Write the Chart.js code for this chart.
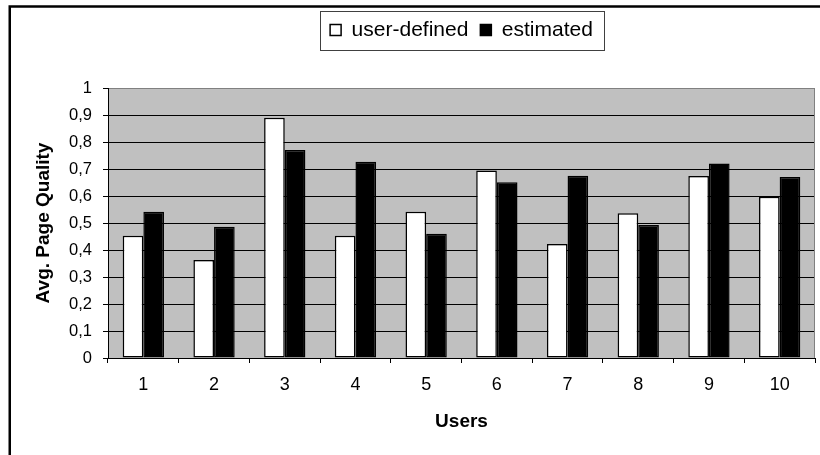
<!DOCTYPE html>
<html>
<head>
<meta charset="utf-8">
<title>Avg. Page Quality per user</title>
<style>
  html, body { margin: 0; padding: 0; background: #ffffff; }
  #wrap { width: 820px; height: 455px; position: relative; }
</style>
<script src="https://cdn.jsdelivr.net/npm/chart.js@4.4.1/dist/chart.umd.min.js"></script>
</head>
<body>
<div id="wrap"><canvas id="chart" width="820" height="455"></canvas></div>
<script>
// Users on the x axis
const users = ['1', '2', '3', '4', '5', '6', '7', '8', '9', '10'];
// Average page quality as defined by each user
const userDefined = [0.453, 0.363, 0.890, 0.453, 0.542, 0.694, 0.422, 0.536, 0.674, 0.597];
// Average page quality as estimated
const estimated = [0.542, 0.486, 0.770, 0.727, 0.460, 0.651, 0.675, 0.493, 0.720, 0.670];
// Y axis tick labels (decimal comma)
const qualityTicks = ['0', '0,1', '0,2', '0,3', '0,4', '0,5', '0,6', '0,7', '0,8', '0,9', '1'];

const FONT = "'Liberation Sans', Arial, Helvetica, sans-serif";

// Grey plot area, its grey frame, the boxed legend and the outer chart border
const chartFrame = {
  id: 'chartFrame',
  afterLayout(chart) {
    // keep the legend up at the top edge, leaving white space above the plot
    const lg = chart.legend;
    if (lg) {
      const shift = lg.top - 7.5;
      lg.top -= shift;
      lg.bottom -= shift;
    }
  },
  beforeDraw(chart) {
    const { ctx, chartArea: a } = chart;
    ctx.save();
    ctx.fillStyle = '#ffffff';
    ctx.fillRect(0, 0, chart.width, chart.height);
    ctx.fillStyle = '#c0c0c0';
    ctx.fillRect(a.left, a.top, a.right - a.left, a.bottom - a.top);
    ctx.restore();
  },
  beforeDatasetsDraw(chart) {
    const { ctx, chartArea: a } = chart;
    ctx.save();
    ctx.strokeStyle = '#808080';
    ctx.lineWidth = 1;
    ctx.beginPath();
    ctx.moveTo(Math.round(a.right) - 0.5, a.top);
    ctx.lineTo(Math.round(a.right) - 0.5, a.bottom);
    ctx.stroke();
    ctx.restore();
  },
  afterDraw(chart) {
    const { ctx } = chart;
    const boxes = chart.legend && chart.legend.legendHitBoxes;
    ctx.save();
    if (boxes && boxes.length) {
      const first = boxes[0];
      const last = boxes[boxes.length - 1];
      const left = Math.round(first.left - 10) + 0.5;
      const right = Math.round(last.left + last.width + 11) + 0.5;
      const cy = first.top + first.height / 2;
      const top = Math.round(cy - 19.5) + 0.5;
      const bottom = Math.round(cy + 20) + 0.5;
      ctx.strokeStyle = '#404040';
      ctx.lineWidth = 1;
      ctx.strokeRect(left, top, right - left, bottom - top);
    }
    ctx.strokeStyle = '#000000';
    ctx.lineWidth = 2.5;
    ctx.strokeRect(9.75, 6.5, 1000, 1000);
    ctx.restore();
  }
};

new Chart(document.getElementById('chart'), {
  type: 'bar',
  data: {
    labels: users,
    datasets: [
      {
        label: 'user-defined',
        data: userDefined,
        backgroundColor: '#ffffff',
        borderColor: '#000000',
        borderWidth: 1.5,
        borderSkipped: false
      },
      {
        label: 'estimated',
        data: estimated,
        backgroundColor: '#000000',
        borderColor: '#000000',
        borderWidth: 1.5,
        borderSkipped: false
      }
    ]
  },
  options: {
    responsive: false,
    devicePixelRatio: 1,
    animation: false,
    categoryPercentage: 0.584,
    barPercentage: 1,
    layout: { padding: { top: 8, left: 10, right: 5, bottom: 0 } },
    plugins: {
      tooltip: { enabled: false },
      legend: {
        position: 'top',
        fullSize: false,
        labels: {
          color: '#000000',
          font: { family: FONT, size: 21 },
          boxWidth: 11,
          boxHeight: 11,
          padding: 12
        }
      }
    },
    scales: {
      x: {
        ticks: { color: '#000000', font: { family: FONT, size: 18 }, padding: 11, maxRotation: 0 },
        grid: { offset: true, drawOnChartArea: false, color: '#000000', tickColor: '#000000', tickLength: 5 },
        border: { color: '#000000', width: 1 },
        title: {
          display: true,
          text: 'Users',
          color: '#000000',
          font: { family: FONT, size: 19, weight: 'bold' },
          padding: { top: 0, bottom: 22 }
        },
        afterFit(scale) { scale.height = 97; }
      },
      y: {
        min: 0,
        max: 1,
        ticks: {
          stepSize: 0.1,
          color: '#000000',
          font: { family: FONT, size: 16.5 },
          padding: 11,
          callback: (value, index) => qualityTicks[index]
        },
        grid: {
          color: (c) => (c.tick && Math.abs(c.tick.value - 1) < 1e-9 ? '#808080' : '#000000'),
          tickColor: '#000000',
          tickLength: 5,
          lineWidth: 1
        },
        border: { color: '#000000', width: 1 },
        title: {
          display: true,
          text: 'Avg. Page Quality',
          color: '#000000',
          font: { family: FONT, size: 19, weight: 'bold' },
          padding: { top: 22.6, bottom: 0 }
        },
        afterFit(scale) { scale.width = 98; scale.paddingTop = 88; }
      }
    }
  },
  plugins: [chartFrame]
});
</script>
</body>
</html>
